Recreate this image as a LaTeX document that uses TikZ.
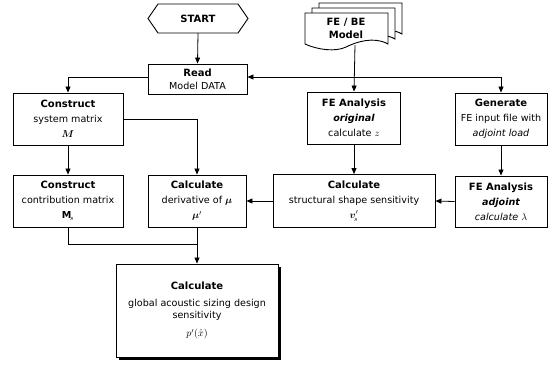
\documentclass[tikz,border=0pt]{standalone}
\usepackage{fontspec}
\setmainfont{DejaVu Sans}
\usepackage{bm}
\usetikzlibrary{arrows.meta,shadows}
\begin{document}
\begin{tikzpicture}[x=1pt,y=-1pt,
  box/.style={draw,line width=0.9pt,fill=white,align=center,inner sep=1pt,font=\fontsize{9.6}{15}\selectfont},
  arr/.style={line width=0.8pt,-{Triangle[length=6pt,width=5pt]}},
  ln/.style={line width=0.8pt}]
\useasboundingbox (0,0) rectangle (556,368);
\newcommand{\tl}[1]{{\fontsize{10}{15}\selectfont\bfseries #1}}
% START
\node[font=\fontsize{10}{12}\selectfont\bfseries] (start) at (198,18.5) {START};
\draw[line width=0.9pt] (148,18.5) -- (158,4) -- (238,4) -- (248,18.5) -- (238,33) -- (158,33) -- cycle;
\coordinate (starts) at (198,33);
% document stack
\foreach \dx/\dy in {14/-10,7/-5,0/0}{
  \draw[line width=0.9pt,fill=white] (305+\dx,13+\dy) -- (388+\dx,13+\dy) -- (388+\dx,44+\dy)
    .. controls (374+\dx,36+\dy) and (356+\dx,42+\dy) .. (346+\dx,47+\dy)
    .. controls (336+\dx,52+\dy) and (318+\dx,50+\dy) .. (305+\dx,44+\dy) -- cycle;
}
\node[align=center,font=\fontsize{10}{13}\selectfont\bfseries] (model) at (346,28) {FE / BE\\Model};
\coordinate (models) at (355,45);
% boxes
\node[box,minimum width=99pt,minimum height=30pt,font=\fontsize{9.6}{13}\selectfont] (read) at (197.5,79) {\tl{Read}\\Model DATA};
\node[box,minimum width=110pt,minimum height=52pt] (sys) at (68,119) {\tl{Construct}\\system matrix\\$\bm{M}$};
\node[box,minimum width=110pt,minimum height=52pt] (contr) at (68,201) {\tl{Construct}\\contribution matrix\\$\mathbf{M}_{\!s}$};
\node[box,minimum width=98pt,minimum height=52pt] (deriv) at (197,201) {\tl{Calculate}\\derivative of $\bm{\mu}$\\$\bm{\mu}'$};
\node[box,minimum width=162pt,minimum height=53pt] (struct) at (354,201) {\tl{Calculate}\\structural shape sensitivity\\$\bm{v}'_{\!s}$};
\node[box,minimum width=93pt,minimum height=52pt] (orig) at (354,118) {\tl{FE Analysis}\\{\bfseries\itshape original}\\calculate $z$};
\node[box,minimum width=92pt,minimum height=52pt] (gen) at (501,119) {\tl{Generate}\\FE input file with\\\itshape adjoint load};
\node[box,minimum width=92pt,minimum height=51pt] (adj) at (501,201.5) {\tl{FE Analysis}\\{\bfseries\itshape adjoint}\\\itshape calculate $\lambda$};
\node[box,minimum width=162pt,minimum height=93pt,font=\fontsize{9.6}{11.5}\selectfont,drop shadow={shadow xshift=3pt,shadow yshift=-3pt,fill=black,opacity=1}] (final) at (197,310.5)
  {\tl{Calculate}\\[6pt]global acoustic sizing design\\sensitivity\\[7pt]$p'(\hat{x})$};
% connectors
\draw[arr] (starts) -- (read.north);
\coordinate (j) at (gen.north |- 0,77);
\draw[arr] (j) -- (read.east |- j);
\draw[arr] (j) -- (gen.north);
\draw[arr] (models) -- (orig.north);
\draw[arr] (read.west |- 0,77) -| (sys.north);
\draw[arr] (sys.east) -| (deriv.north);
\draw[arr] (sys.south) -- (contr.north);
\draw[arr] (orig.south) -- (struct.north);
\draw[arr] (gen.south) -- (adj.north);
\draw[arr] (adj.west) -- (struct.east);
\draw[arr] (struct.west) -- (deriv.east);
\coordinate (m) at (deriv.south |- 0,244);
\draw[ln] (contr.south) |- (m);
\draw[arr] (deriv.south) -- (final.north);
\end{tikzpicture}
\end{document}
